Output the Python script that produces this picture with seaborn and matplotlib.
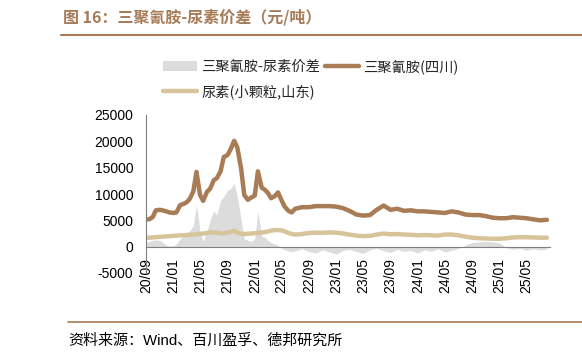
import pandas as pd
import numpy as np
import matplotlib
matplotlib.use('Agg')
import matplotlib.pyplot as plt
import matplotlib.dates as mdates
from matplotlib.patches import Patch
from matplotlib.lines import Line2D
import seaborn as sns

# Fechas: quincenal hasta 2022-06, luego mensual
dates = list(pd.date_range('2020-09-01', '2022-06-16', freq='SMS')) + \
        list(pd.date_range('2022-07-01', '2025-08-01', freq='MS'))

# 三聚氰胺(四川) 元/吨
melamine = [5200, 5200, 5600, 6900, 7000, 6900, 6700, 6500, 6400, 6500,
            7900, 8100, 8400, 9000, 10500, 14200, 9800, 8700, 10400, 11000,
            12600, 13000, 14300, 17000, 17400, 18500, 20100, 18800, 14800, 9800,
            8900, 9300, 9700, 14300, 11200, 10800, 10200, 9200, 9600, 10300,
            8800, 7600, 6800, 6500,
            7200, 7500, 7500, 7700, 7700, 7700, 7600, 7300, 6800, 6100,
            5900, 6000, 7000, 7800, 7000, 7200, 6800, 6900, 6700, 6700,
            6600, 6500, 6400, 6700, 6500, 6100, 6000, 6000, 5800, 5500,
            5400, 5400, 5600, 5500, 5400, 5200, 5000, 5100]

# 尿素(小颗粒,山东) 元/吨
urea = [1700, 1700, 1750, 1800, 1850, 1900, 1950, 2000, 2050, 2100,
        2150, 2150, 2200, 2250, 2300, 2350, 2400, 2500, 2600, 2700,
        2700, 2650, 2500, 2550, 2700, 2800, 3050, 2700, 2450, 2400,
        2450, 2500, 2550, 2600, 2700, 2750, 2900, 3050, 3150, 3150,
        3100, 2900, 2600, 2400,
        2300, 2400, 2600, 2650, 2650, 2700, 2650, 2500, 2300, 2100,
        2000, 2050, 2300, 2500, 2350, 2400, 2300, 2250, 2150, 2200,
        2150, 2100, 2300, 2300, 2150, 1900, 1700, 1600, 1550, 1500,
        1500, 1600, 1750, 1800, 1800, 1750, 1700, 1700]

# 三聚氰胺-尿素价差 元/吨
spread = [800, 1000, 1200, 1300, 1200, 800, 300, 100, 200, 500,
          1500, 2000, 2500, 3000, 4000, 7900, 3000, 1000, 3000, 5000,
          6800, 6000, 8800, 9500, 10700, 11000, 12000, 9500, 5000, 1500,
          1200, 1000, 1500, 6700, 2000, 1800, 1200, 800, 500, 300,
          -300, -600, -800, -1000,
          -800, -400, -900, -1200, -600, -1000, -1400, -700, -500, -900,
          -1300, -600, -300, -800, -1100, -500, -900, -700, -1200, -600,
          -900, -400, -1000, -700, -300, 300, 800, 900, 1000, 900,
          700, -200, -500, -300, -700, -400, -600, -500]

labels = ['三聚氰胺-尿素价差', '三聚氰胺(四川)', '尿素(小颗粒,山东)']
title = '图 16：三聚氰胺-尿素价差（元/吨）'
source = '资料来源：Wind、百川盈孚、德邦研究所'

c_gray = '#DCDCDC'
c_mel = '#A87C55'
c_urea = '#D8C49A'
c_title = '#A57B58'

df = pd.DataFrame({'date': dates, 'mel': melamine, 'urea': urea, 'spread': spread})

sns.set_style('white')
plt.rcParams['font.family'] = ['Liberation Sans', 'Noto Sans CJK SC', 'DejaVu Sans']
plt.rcParams['axes.unicode_minus'] = False

fig = plt.figure(figsize=(5.82, 3.59), dpi=100)
ax = fig.add_axes([146/582, 1 - 273/359, 404/582, 158/359])

ax.fill_between(df['date'], 0, df['spread'], color=c_gray, linewidth=0)
sns.lineplot(data=df, x='date', y='mel', ax=ax, color=c_mel, linewidth=3.2)
sns.lineplot(data=df, x='date', y='urea', ax=ax, color=c_urea, linewidth=3.2)

ax.set_ylim(-5000, 25000)
ax.set_yticks(range(-5000, 25001, 5000))
ax.set_xlim(pd.Timestamp('2020-09-01'), pd.Timestamp('2025-08-15'))
ax.xaxis.set_major_locator(mdates.MonthLocator(bymonth=[1, 5, 9]))
ax.xaxis.set_major_formatter(mdates.DateFormatter('%y/%m'))
ax.set_xlabel('')
ax.set_ylabel('')

for s in ['top', 'right']:
    ax.spines[s].set_visible(False)
ax.spines['bottom'].set_position(('data', 0))
for s in ['left', 'bottom']:
    ax.spines[s].set_color('#7F7F7F')
    ax.spines[s].set_linewidth(0.8)

ax.tick_params(axis='x', direction='in', length=4, color='#7F7F7F', pad=8,
               labelsize=10, rotation=90)
ax.tick_params(axis='y', direction='in', length=4, color='#7F7F7F', pad=9,
               labelsize=10)
for t in ax.get_xticklabels() + ax.get_yticklabels():
    t.set_color('black')

handles = [Patch(facecolor=c_gray, edgecolor='none'),
           Line2D([], [], color=c_urea, linewidth=3.2),
           Line2D([], [], color=c_mel, linewidth=3.2)]
fig.legend(handles, [labels[0], labels[2], labels[1]], ncol=2, frameon=False,
           loc='upper left', bbox_to_anchor=(150/582, 1 - 46/359),
           prop={'family': ['Noto Sans CJK SC'], 'size': 10.3},
           handlelength=2.4, handletextpad=0.3, columnspacing=0.3, labelspacing=0.75)

fig.text(63/582, 1 - 17/359, title, fontsize=11.5, fontweight='bold', color=c_title,
         va='center', ha='left', family=['Noto Sans CJK SC', 'DejaVu Sans'])
fig.add_artist(Line2D([61/582, 1.0], [1 - 35/359, 1 - 35/359], color=c_title, linewidth=1.5))
fig.add_artist(Line2D([68/582, 1.0], [1 - 322/359, 1 - 322/359], color=c_title, linewidth=1.2))
fig.text(68/582, 1 - 341/359, source, fontsize=10.8, color='black', va='center', ha='left',
         family=['Liberation Sans', 'Noto Sans CJK SC'])

fig.savefig('out.png', dpi=100)
